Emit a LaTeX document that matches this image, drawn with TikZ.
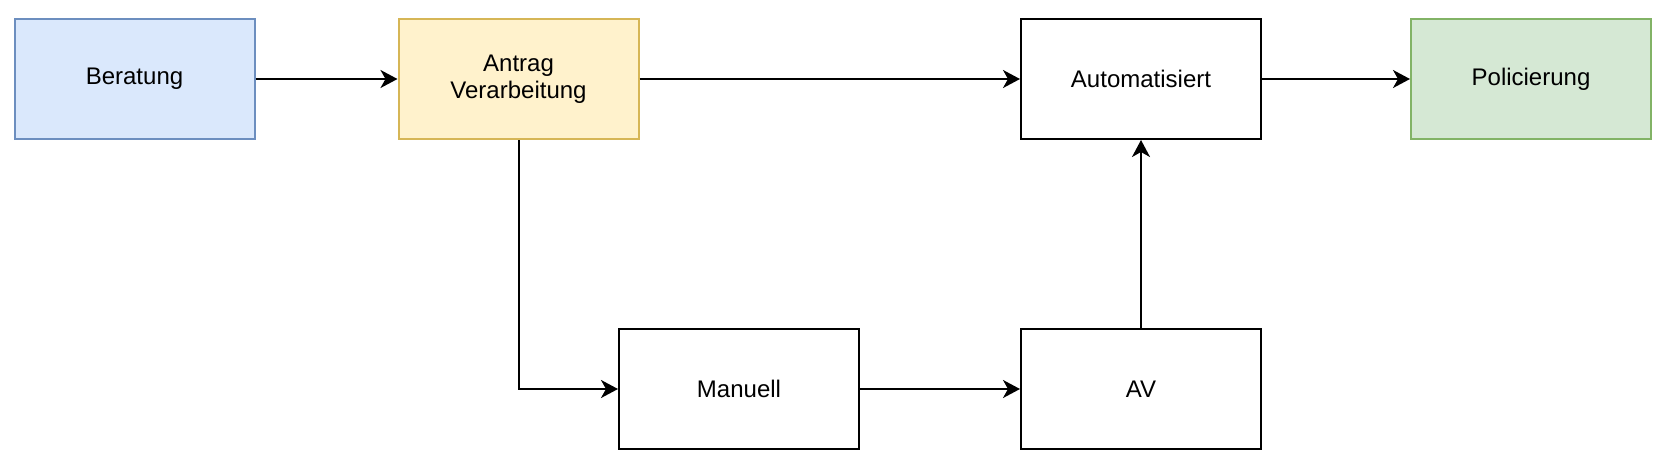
\documentclass[tikz,border=0pt]{standalone}
\usepackage{fontspec}
\setmainfont{Liberation Sans}
\usetikzlibrary{positioning,arrows.meta}
\definecolor{blueFill}{HTML}{DAE8FC}
\definecolor{blueLine}{HTML}{6C8EBF}
\definecolor{yellowFill}{HTML}{FFF2CC}
\definecolor{yellowLine}{HTML}{D6B656}
\definecolor{greenFill}{HTML}{D5E8D4}
\definecolor{greenLine}{HTML}{82B366}

\begin{document}
\begin{tikzpicture}[x=1pt,y=-1pt,
        >={Stealth[length=17pt,width=18pt,inset=5pt]},
        box/.style={draw,line width=2pt,minimum width=240pt,minimum height=120pt,
            inner sep=0pt,align=center,font=\fontsize{24}{27.5}\selectfont},
        flow/.style={->,line width=2pt}]
    \useasboundingbox (0,0) rectangle (1668,469);
    % upper row
    \node[box,fill=blueFill,draw=blueLine] (beratung) at (134.5,79) {Beratung};
    \node[box,fill=yellowFill,draw=yellowLine] (antrag) at (518.5,79) {Antrag\\Verarbeitung};
    \node[box] (auto) at (1141,79) {Automatisiert};
    \node[box,fill=greenFill,draw=greenLine] (police) at (1531,79) {Policierung};
    % lower row
    \node[box] (manuell) at (739,389) {Manuell};
    \node[box] (av) at (1141,389) {AV};
    % connectors
    \draw[flow] (beratung) -- (antrag);
    \draw[flow] (antrag) -- (auto);
    \draw[flow] (auto) -- (police);
    \draw[flow] (antrag) |- (manuell);
    \draw[flow] (manuell) -- (av);
    \draw[flow] (av) -- (auto);
\end{tikzpicture}
\end{document}
